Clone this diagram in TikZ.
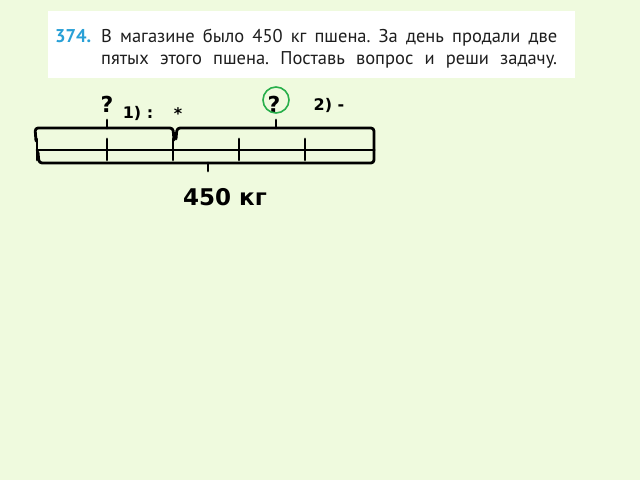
\documentclass[tikz,border=0pt]{standalone}
\usepackage{fontspec}
\setmainfont{PT Sans}
\newfontfamily\diagfont{DejaVu Sans}
\usepackage{tikz}
\usetikzlibrary{backgrounds}
\frenchspacing

\definecolor{bgcol}{RGB}{239,250,222}
\definecolor{numcol}{RGB}{40,160,215}
\definecolor{txtcol}{RGB}{30,30,30}
\definecolor{ringcol}{RGB}{40,175,75}

\begin{document}
\begin{tikzpicture}[x=1pt,y=-1pt,
  bar/.style={line width=2.8pt,line cap=round,line join=round},
  lbl/.style={inner sep=0pt,font=\diagfont\bfseries}]
\useasboundingbox (0,0) rectangle (640,480);
\fill[bgcol] (0,0) rectangle (640,480);

% draw task text
\fill[white] (48,11) rectangle (575,78);
\node[anchor=base west,inner sep=0pt,text=numcol,font=\fontsize{18.5}{18}\selectfont\bfseries] (num) at (55,42) {374.};
\node[anchor=base west,inner sep=0pt,text=txtcol,font=\fontsize{18.5}{18}\selectfont] (lineA) at (101,42)
  {\makebox[456pt][s]{В магазине было 450 кг пшена. За день продали две}};
\node[anchor=base west,inner sep=0pt,text=txtcol,font=\fontsize{18.5}{18}\selectfont] (lineB) at (101,64)
  {\makebox[456pt][s]{пятых этого пшена. Поставь вопрос и реши задачу.}};

% draw horizontal line
\draw[bar] (37,150) -- (374,150);

% draw vertical lines
\foreach \x in {37,107,173,239,305,374}
{
	\draw[bar] (\x,139) -- (\x,160);
}

% draw braces
\draw[bar,rounded corners=3pt] (36,141) -- (35,128) -- (173,128) -- (174,140);
\draw[bar] (107,128) -- (107,120);
\draw[bar,rounded corners=3pt] (176,139) -- (177,128) -- (374,128) -- (374,150);
\draw[bar] (276,128) -- (276,120);
\draw[bar,rounded corners=3pt] (38,152) -- (39,163) -- (374,163) -- (374,150);
\draw[bar] (208,163) -- (208,171);

% draw labels
\node[lbl,font=\fontsize{22}{22}\selectfont\diagfont\bfseries] (qa) at (107,104) {?};
\node[lbl,font=\fontsize{16}{16}\selectfont\diagfont\bfseries] (step1) at (138,113) {1) :};
\node[lbl,font=\fontsize{16}{16}\selectfont\diagfont\bfseries] (star) at (178,114) {*};
\node[lbl,font=\fontsize{22}{22}\selectfont\diagfont\bfseries] (qb) at (274,104) {?};
\draw[ringcol,line width=1.6pt] (276,100) circle (13);
\node[lbl,font=\fontsize{16}{16}\selectfont\diagfont\bfseries] (step2) at (329,105) {2) -};
\node[lbl,font=\fontsize{23}{23}\selectfont\diagfont\bfseries] (total) at (225,197) {450 кг};

\end{tikzpicture}
\end{document}
